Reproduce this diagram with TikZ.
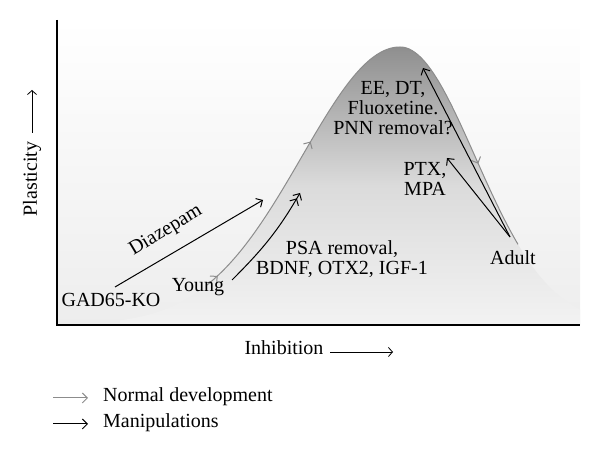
\documentclass[tikz,border=0pt]{standalone}
\usepackage{fontspec}
\setmainfont{Liberation Serif}
\usetikzlibrary{arrows.meta,decorations.markings}
\definecolor{bellTop}{gray}{0.56}
\definecolor{bellMid}{gray}{0.86}
\definecolor{bellBot}{gray}{0.95}
\definecolor{bgBot}{gray}{0.93}
\definecolor{devGray}{gray}{0.55}
\begin{document}
\begin{tikzpicture}[x=1pt,y=1pt,font=\fontsize{20}{20}\selectfont,
  declare function={bellL(\x)=130+278*exp(-((\x-400)/98)*((\x-400)/98)/2);
                    bellR(\x)=130+278*exp(-((\x-400)/75)*((\x-400)/75)/2);},
  barb/.style={-{Straight Barb[length=5pt,width=10pt]}},
  dbarb/.style={-{Straight Barb[length=5pt,width=10pt]Straight Barb[length=5pt,width=10pt]}},
  manip/.style={black,line width=1pt},
  normal/.style={devGray,line width=1pt},
  axisarr/.style={black,line width=0.8pt,-{Straight Barb[length=4pt,width=9pt]}},
  lbl/.style={inner sep=0pt,align=center}]

  \useasboundingbox (0,0) rectangle (600,455);
  \shade [top color=white,bottom color=bgBot] (57,130) rectangle (580,435);
  \shade [top color=bellTop,bottom color=bellBot,middle color=bellMid]
    plot[domain=120:400,samples=80] (\x,{bellL(\x)}) -- plot[domain=400:580,samples=60] (\x,{bellR(\x)}) -- (580,130) -- (120,130) -- cycle;
  \draw [normal,postaction={decorate},decoration={markings,
      mark=at position 14pt with {\arrow{Straight Barb[length=5pt,width=10pt]}},
      mark=at position 178pt with {\arrow{Straight Barb[length=5pt,width=10pt]}},
      mark=at position 458pt with {\arrow{Straight Barb[length=5pt,width=10pt]}}}]
    plot[domain=207:400,samples=60] (\x,{bellL(\x)}) -- plot[domain=400:518,samples=40] (\x,{bellR(\x)});
  \draw [black,line width=1.2pt] (57,435) -- (57,130) -- (580,130);

  \node [lbl] (gad) at (111,155) {GAD65-KO};
  \node [lbl] (young) at (198,168) {Young};
  \node [lbl] (psa) at (342,196) {PSA removal,\\BDNF, OTX2, IGF-1};
  \node [lbl] (adult) at (513,197) {Adult};
  \node [lbl] (ee) at (393,347) {EE, DT,\\Fluoxetine.\\PNN removal?};
  \node [lbl] (ptx) at (425,276) {PTX,\\MPA};
  \node [lbl,rotate=31] (diaz) at (166,224) {Diazepam};
  \node [lbl,rotate=90] (plast) at (32,276) {Plasticity};
  \node [lbl] (inhib) at (284,107) {Inhibition};
  \node [lbl,anchor=west] (normLbl) at (103,58) {Normal development};
  \node [lbl,anchor=west] (manLbl) at (103,32) {Manipulations};

  \coordinate (gadOut) at (115,168);
  \coordinate (diazTip) at (263,255);
  \coordinate (youngOut) at (232,175);
  \coordinate (psaTip) at (300,262);
  \coordinate (adultTop) at (510,218);
  \coordinate (eeTip) at (423,387);
  \coordinate (ptxTip) at (447,297);
  \coordinate (plastTip) at (32,365);
  \coordinate (inhibTail) at (330,103);
  \coordinate (inhibTip) at (393,103);

  \draw [manip,barb] (gadOut) -- (diazTip);
  \draw [manip,dbarb] (youngOut) to[out=45,in=240] (psaTip);
  \draw [manip,barb] (adultTop) -- (eeTip);
  \draw [manip,barb] (adultTop) -- (ptxTip);
  \draw [axisarr] ([yshift=9pt]plast.east) -- (plastTip);
  \draw [axisarr] (inhibTail) -- (inhibTip);
  \draw [normal,barb] ([xshift=-50pt,yshift=-1pt]normLbl.west) -- ([xshift=-15pt,yshift=-1pt]normLbl.west);
  \draw [manip,barb] ([xshift=-50pt,yshift=-1pt]manLbl.west) -- ([xshift=-15pt,yshift=-1pt]manLbl.west);

\end{tikzpicture}
\end{document}
